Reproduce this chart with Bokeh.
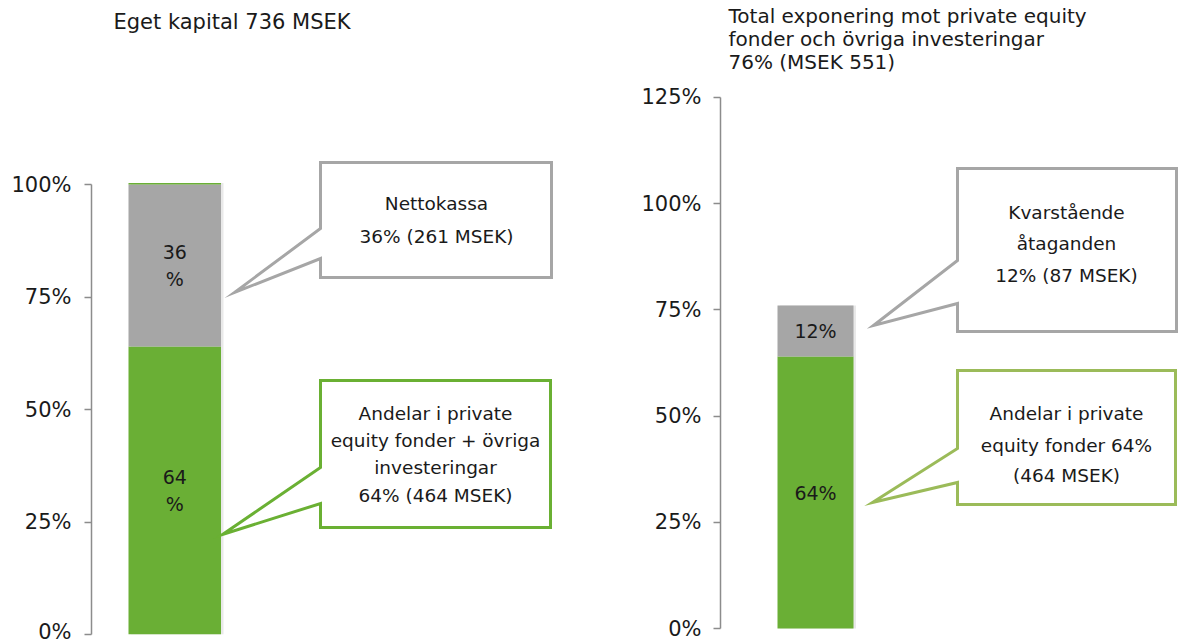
from bokeh.plotting import figure
from bokeh.layouts import row
from bokeh.models import Range1d, FixedTicker, PrintfTickFormatter
from bokeh.core.properties import value
from bokeh.embed import file_html
from bokeh.resources import INLINE

# ---------------- data ----------------
left_title = "Eget kapital 736 MSEK"
left_series = ["Andelar i private equity fonder + övriga investeringar", "Nettokassa", "Övrigt"]
left_values = [64, 36, 0.35]
left_bar_labels = ["64\n%", "36\n%", ""]
left_ticks = [0, 25, 50, 75, 100]
left_callout_net = ["Nettokassa", "36% (261 MSEK)"]
left_callout_pe = ["Andelar i private", "equity fonder + övriga", "investeringar", "64% (464 MSEK)"]

right_title = ["Total exponering mot private equity", "fonder och övriga investeringar", "76% (MSEK 551)"]
right_series = ["Andelar i private equity fonder", "Kvarstående åtaganden"]
right_values = [64, 12]
right_bar_labels = ["64%", "12%"]
right_ticks = [0, 25, 50, 75, 100, 125]
right_callout_commit = ["Kvarstående", "åtaganden", "12% (87 MSEK)"]
right_callout_pe = ["Andelar i private", "equity fonder 64%", "(464 MSEK)"]

# ---------------- style ----------------
FONT = "DejaVu Sans"
GREEN = "#6aaf35"
GRAY = "#a6a6a6"
GREEN_BORDER_L = "#6ab033"
GREEN_BORDER_R = "#9bbb59"
TXT = "#1a1a1a"
AXIS = "#8c8c8c"
left_colors = [GREEN, GRAY, GREEN]
right_colors = [GREEN, GRAY]

H = 643
FRAME_BOTTOM = 634  # shared frame bottom (px from top)


def make_fig(width, border_left, xr, yr, ticks):
    p = figure(width=width, height=H, x_range=Range1d(*xr), y_range=Range1d(*yr),
               output_backend="svg", toolbar_location=None, tools="",
               x_axis_location=None, min_border_left=border_left, min_border_right=0,
               min_border_top=0, min_border_bottom=H - FRAME_BOTTOM)
    p.outline_line_color = None
    p.grid.visible = False
    p.background_fill_color = "white"
    p.border_fill_color = "white"
    ax = p.yaxis[0]
    ax.ticker = FixedTicker(ticks=ticks)
    ax.formatter = PrintfTickFormatter(format="%d%%")
    ax.bounds = (ticks[0], ticks[-1])
    ax.axis_line_color = AXIS
    ax.axis_line_width = 1.5
    ax.major_tick_line_color = AXIS
    ax.major_tick_line_width = 1.5
    ax.major_tick_out = 7
    ax.major_tick_in = 0
    ax.minor_tick_line_color = None
    ax.major_label_text_font = FONT
    ax.major_label_text_font_size = "21px"
    ax.major_label_text_color = TXT
    ax.major_label_standoff = 13
    return p


def stacked_bar(p, values, colors, labels, shadow_dx):
    bottoms, tops = [], []
    acc = 0
    for v in values:
        bottoms.append(acc)
        acc += v
        tops.append(acc)
    # soft shadow
    p.quad(left=[-0.5 + shadow_dx], right=[0.5 + shadow_dx], bottom=[0],
           top=[tops[-1]], fill_color="#cfcfcf", fill_alpha=0.45, line_color=None)
    for b, t, c in zip(bottoms, tops, colors):
        p.vbar(x=[0], width=1.0, bottom=[b], top=[t], fill_color=c, line_color=None)
    lx, ly, lt = [], [], []
    for b, t, lab in zip(bottoms, tops, labels):
        if lab:
            lx.append(0)
            ly.append((b + t) / 2)
            lt.append(lab)
    p.text(x=lx, y=ly, text=lt, text_font=value(FONT), text_font_size=value("19px"),
           text_align="center", text_baseline="middle", text_color=TXT, text_line_height=1.25)


def callout(p, X, Y, L, T, R, B, a1, a2, tip, color, lines, cx, line_ys):
    xs = [X(L), X(R), X(R), X(L), X(L), X(tip[0]), X(L)]
    ys = [Y(T), Y(T), Y(B), Y(B), Y(a2), Y(tip[1]), Y(a1)]
    p.patch(xs, ys, fill_color="white", line_color=color, line_width=3, line_join="miter")
    p.text(x=[X(cx)] * len(lines), y=[Y(v) for v in line_ys], text=lines,
           text_font=value(FONT), text_font_size=value("18.5px"), text_align="center",
           text_baseline="middle", text_color=TXT)


# ---------------- left panel ----------------
W1 = 600
BL1 = 91
S1 = 4.5    # px per percent
Z1 = 634    # px position of 0 %
U1 = 92.5   # px per x unit
X0_1 = -0.9
x1r = (X0_1, X0_1 + (W1 - BL1) / U1)
y1r = ((Z1 - FRAME_BOTTOM) / S1, (Z1 - FRAME_BOTTOM) / S1 + FRAME_BOTTOM / S1)


def X1(px):
    return (px - BL1) / U1 + X0_1


def Y1(py):
    return (Z1 - py) / S1


p1 = make_fig(W1, BL1, x1r, y1r, left_ticks)
stacked_bar(p1, left_values, left_colors, left_bar_labels, 2.5 / U1)
p1.text(x=[X1(113)], y=[Y1(21)], text=[left_title], text_font=value(FONT),
        text_font_size=value("21px"), text_align="left", text_baseline="middle", text_color=TXT)
callout(p1, X1, Y1, 320, 162, 551, 277, 228, 258, (234, 292), GRAY,
        left_callout_net, 436, [203, 236])
callout(p1, X1, Y1, 320, 380, 550, 527, 467, 503, (222, 534), GREEN_BORDER_L,
        left_callout_pe, 435, [413, 440, 467, 495])

# ---------------- right panel ----------------
W2 = 1182 - W1
BL2 = 120
S2 = 4.25
Z2 = 628
U2 = 76.0
X0_2 = -1.25
x2r = (X0_2, X0_2 + (W2 - BL2) / U2)
y2r = ((Z2 - FRAME_BOTTOM) / S2, (Z2 - FRAME_BOTTOM) / S2 + FRAME_BOTTOM / S2)


def X2(px):
    return (px - (W1 + BL2)) / U2 + X0_2


def Y2(py):
    return (Z2 - py) / S2


p2 = make_fig(W2, BL2, x2r, y2r, right_ticks)
p2.yaxis[0].major_label_standoff = 12
stacked_bar(p2, right_values, right_colors, right_bar_labels, 2.5 / U2)
p2.text(x=[X2(728)] * 3, y=[Y2(15), Y2(38), Y2(61)], text=right_title, text_font=value(FONT),
        text_font_size=value("20px"), text_align="left", text_baseline="middle", text_color=TXT)
callout(p2, X2, Y2, 957, 168, 1176, 331, 260, 303, (873, 325), GRAY,
        right_callout_commit, 1066, [212, 243, 275])
callout(p2, X2, Y2, 957, 370, 1175, 504, 448, 482, (872, 502), GREEN_BORDER_R,
        right_callout_pe, 1066, [413, 445, 475])

layout = row(p1, p2, spacing=0)
open("out.html", "w").write(file_html(layout, INLINE))
